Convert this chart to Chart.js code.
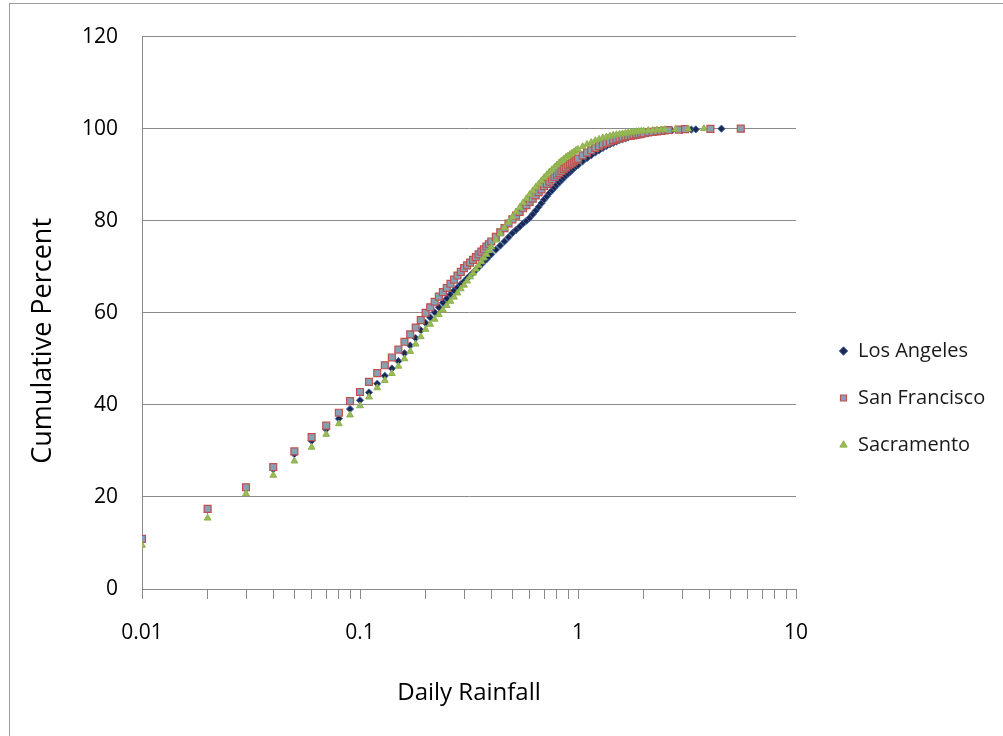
<!DOCTYPE html>
<html>
<head>
<meta charset="utf-8">
<script src="https://cdn.jsdelivr.net/npm/chart.js@4.4.0/dist/chart.umd.min.js"></script>
<style>
  html, body { margin: 0; padding: 0; background: #ffffff; }
  #wrap { position: relative; width: 1003px; height: 736px; overflow: hidden; }
  #c { position: absolute; left: 0; top: 0; }
  #frame { position: absolute; left: 9px; top: 3px; width: 1100px; height: 800px;
           border-left: 1px solid #9c9c9c; border-top: 1px solid #9c9c9c; pointer-events: none; }
</style>
</head>
<body>
<div id="wrap">
  <canvas id="c" width="1003" height="736"></canvas>
  <div id="frame"></div>
</div>
<script>
// ---- Data ----
const rainfall = [
  0.01, 0.02, 0.03, 0.04, 0.05, 0.06, 0.07, 0.08, 0.09, 0.10,
  0.11, 0.12, 0.13, 0.14, 0.15, 0.16, 0.17, 0.18, 0.19, 0.20,
  0.21, 0.22, 0.23, 0.24, 0.25, 0.26, 0.27, 0.28, 0.29, 0.30,
  0.31, 0.32, 0.33, 0.34, 0.35, 0.36, 0.37, 0.38, 0.39, 0.40,
  0.42, 0.44, 0.46, 0.48, 0.50, 0.52, 0.54, 0.56, 0.58, 0.60,
  0.62, 0.64, 0.66, 0.68, 0.70, 0.72, 0.74, 0.76, 0.78, 0.80,
  0.82, 0.84, 0.86, 0.88, 0.90, 0.92, 0.94, 0.96, 0.98, 1.00,
  1.05, 1.10, 1.15, 1.20, 1.25, 1.30, 1.35, 1.40, 1.45, 1.50,
  1.55, 1.60, 1.65, 1.70, 1.75, 1.80, 1.85, 1.90, 1.95, 2.00,
  2.1, 2.2, 2.3, 2.4, 2.5
];

const losAngeles = [
  10.9, 17.2, 21.8, 26.0, 29.3, 32.2, 34.7, 37.0, 39.1, 41.0,
  42.7, 44.6, 46.3, 47.9, 49.5, 51.2, 52.9, 54.5, 56.2, 57.8,
  59.0, 60.1, 61.2, 62.2, 63.1, 64.0, 64.8, 65.5, 66.2, 66.8,
  67.5, 68.1, 68.7, 69.3, 69.9, 70.5, 71.1, 71.6, 72.2, 72.7,
  73.7, 74.6, 75.5, 76.4, 77.3, 78.0, 78.7, 79.4, 80.0, 80.6,
  81.4, 82.2, 83.0, 83.8, 84.6, 85.3, 86.0, 86.6, 87.2, 87.8,
  88.3, 88.8, 89.3, 89.8, 90.2, 90.6, 91.0, 91.4, 91.8, 92.1,
  92.9, 93.6, 94.2, 94.8, 95.3, 95.8, 96.2, 96.6, 96.9, 97.2,
  97.5, 97.7, 97.9, 98.1, 98.3, 98.4, 98.5, 98.6, 98.7, 98.8,
  99.0, 99.2, 99.3, 99.4, 99.5
];
const losAngelesTailX = [2.7, 3.0, 3.31, 3.47, 4.55];
const losAngelesTailY = [99.6, 99.7, 99.8, 99.85, 100];

const sanFrancisco = [
  10.9, 17.4, 22.1, 26.5, 29.9, 33.0, 35.5, 38.3, 40.8, 42.8,
  45.0, 46.9, 48.6, 50.3, 52.0, 53.7, 55.3, 56.8, 58.4, 60.0,
  61.2, 62.4, 63.5, 64.5, 65.4, 66.3, 67.2, 68.1, 68.9, 69.7,
  70.3, 70.9, 71.5, 72.1, 72.7, 73.3, 73.8, 74.4, 74.9, 75.5,
  76.5, 77.5, 78.4, 79.4, 80.3, 81.1, 81.9, 82.7, 83.4, 84.1,
  84.8, 85.5, 86.2, 86.8, 87.5, 88.0, 88.5, 89.0, 89.5, 90.0,
  90.4, 90.8, 91.2, 91.6, 92.0, 92.3, 92.6, 92.9, 93.2, 93.5,
  94.2, 94.8, 95.3, 95.8, 96.2, 96.6, 96.9, 97.2, 97.5, 97.7,
  97.9, 98.1, 98.3, 98.4, 98.5, 98.6, 98.7, 98.8, 98.9, 99.0,
  99.2, 99.3, 99.4, 99.5, 99.6
];
const sanFranciscoTailX = [2.6, 2.9, 3.1, 4.05, 5.58];
const sanFranciscoTailY = [99.7, 99.8, 99.9, 99.95, 100];

const sacramento = [
  9.5, 15.4, 20.7, 24.7, 27.8, 30.8, 33.6, 35.9, 37.8, 39.8,
  41.7, 43.7, 45.3, 46.8, 48.4, 50.0, 51.6, 53.2, 54.8, 56.4,
  57.5, 58.6, 59.6, 60.6, 61.6, 62.5, 63.4, 64.3, 65.2, 66.0,
  66.9, 67.8, 68.6, 69.5, 70.3, 71.1, 71.9, 72.7, 73.5, 74.3,
  75.8, 77.2, 78.5, 79.7, 80.8, 81.9, 82.9, 83.9, 84.8, 85.7,
  86.5, 87.3, 88.0, 88.7, 89.4, 90.0, 90.6, 91.1, 91.6, 92.1,
  92.6, 93.0, 93.4, 93.8, 94.1, 94.4, 94.7, 95.0, 95.3, 95.5,
  96.1, 96.6, 97.0, 97.4, 97.7, 98.0, 98.2, 98.4, 98.6, 98.7,
  98.8, 98.9, 99.0, 99.1, 99.2, 99.3, 99.35, 99.4, 99.45, 99.5,
  99.6, 99.65, 99.7, 99.75, 99.8
];
const sacramentoTailX = [2.8, 3.2, 3.78];
const sacramentoTailY = [99.85, 99.9, 100];

const seriesNames = ['Los Angeles', 'San Francisco', 'Sacramento'];

const xTickValues = [
  0.01, 0.02, 0.03, 0.04, 0.05, 0.06, 0.07, 0.08, 0.09,
  0.1, 0.2, 0.3, 0.4, 0.5, 0.6, 0.7, 0.8, 0.9,
  1, 2, 3, 4, 5, 6, 7, 8, 9, 10
];
const xTickLabels = [
  '0.01', '', '', '', '', '', '', '', '',
  '0.1', '', '', '', '', '', '', '', '',
  '1', '', '', '', '', '', '', '', '', '10'
];
const yTickMin = 0, yTickMax = 120, yTickStep = 20;

// ---- helpers ----
function toPoints(xs, ys, tx, ty) {
  return xs.map((x, i) => ({ x: x, y: ys[i] }))
    .concat(tx.map((x, i) => ({ x: x, y: ty[i] })));
}

const FONT = "'Open Sans', 'DejaVu Sans', sans-serif";
Chart.defaults.font.family = FONT;
Chart.defaults.color = '#000000';

const LEGEND_FONT = 20, LEGEND_PAD = 27, LEGEND_BOX = 9;

const legendPlace = {
  id: 'legendPlace',
  afterLayout(chart) {
    const lg = chart.legend;
    if (!lg) return;
    const newLeft = 858 - (LEGEND_PAD + LEGEND_BOX + LEGEND_FONT / 2);
    lg.left = newLeft;
    lg.right = 1003;
    lg.width = lg.right - lg.left;
    const dy = 398 - (lg.top + lg.bottom) / 2;
    lg.top += dy;
    lg.bottom += dy;
  }
};

const gridGray = '#8a8a8a';

new Chart(document.getElementById('c'), {
  type: 'scatter',
  data: {
    datasets: [
      {
        label: seriesNames[0],
        data: toPoints(rainfall, losAngeles, losAngelesTailX, losAngelesTailY),
        pointStyle: 'rectRot',
        pointRadius: 3.6,
        backgroundColor: '#1c2852',
        borderColor: '#3e64a0',
        borderWidth: 1,
        order: 3
      },
      {
        label: seriesNames[1],
        data: toPoints(rainfall, sanFrancisco, sanFranciscoTailX, sanFranciscoTailY),
        pointStyle: 'rect',
        pointRadius: 4.9,
        backgroundColor: '#86a0b4',
        borderColor: '#c0504d',
        borderWidth: 1.2,
        order: 2
      },
      {
        label: seriesNames[2],
        data: toPoints(rainfall, sacramento, sacramentoTailX, sacramentoTailY),
        pointStyle: 'triangle',
        pointRadius: 3.9,
        backgroundColor: '#9bbb59',
        borderColor: '#8db04c',
        borderWidth: 1,
        order: 1
      }
    ]
  },
  options: {
    responsive: false,
    animation: false,
    devicePixelRatio: 1,
    layout: { padding: { top: 34, right: 57, bottom: 0, left: 0 } },
    plugins: {
      tooltip: { enabled: false },
      legend: {
        position: 'right',
        align: 'center',
        maxWidth: 150,
        labels: {
          usePointStyle: true,
          boxWidth: LEGEND_BOX,
          boxHeight: 6,
          padding: LEGEND_PAD,
          color: '#1a1a1a',
          font: { size: LEGEND_FONT, family: FONT },
          sort: (a, b) => a.datasetIndex - b.datasetIndex
        }
      }
    },
    scales: {
      x: {
        type: 'logarithmic',
        position: 'bottom',
        min: 0.01,
        max: 10,
        afterFit(s) { s.height = 147; },
        afterBuildTicks(s) { s.ticks = xTickValues.map(v => ({ value: v })); },
        ticks: {
          autoSkip: false,
          maxRotation: 0,
          padding: 21,
          color: '#000000',
          font: { size: 21, family: FONT },
          callback: (v, i) => xTickLabels[i]
        },
        grid: {
          display: true,
          drawOnChartArea: false,
          drawTicks: true,
          tickLength: 10,
          color: gridGray
        },
        border: { display: true, color: gridGray, width: 1 },
        title: {
          display: true,
          text: 'Daily Rainfall',
          color: '#000000',
          font: { size: 24, family: FONT },
          padding: { top: 0, bottom: 28 }
        }
      },
      y: {
        type: 'linear',
        position: 'left',
        min: yTickMin,
        max: yTickMax,
        afterFit(s) { s.width = 142; },
        ticks: {
          stepSize: yTickStep,
          padding: 24,
          color: '#000000',
          font: { size: 21, family: FONT }
        },
        grid: {
          display: true,
          drawTicks: false,
          color: gridGray,
          lineWidth: 1
        },
        border: { display: true, color: gridGray, width: 1 },
        title: {
          display: true,
          text: 'Cumulative Percent        ',
          color: '#000000',
          font: { size: 27, family: FONT },
          padding: { top: 27, bottom: 0 }
        }
      }
    }
  },
  plugins: [legendPlace]
});
</script>
</body>
</html>
